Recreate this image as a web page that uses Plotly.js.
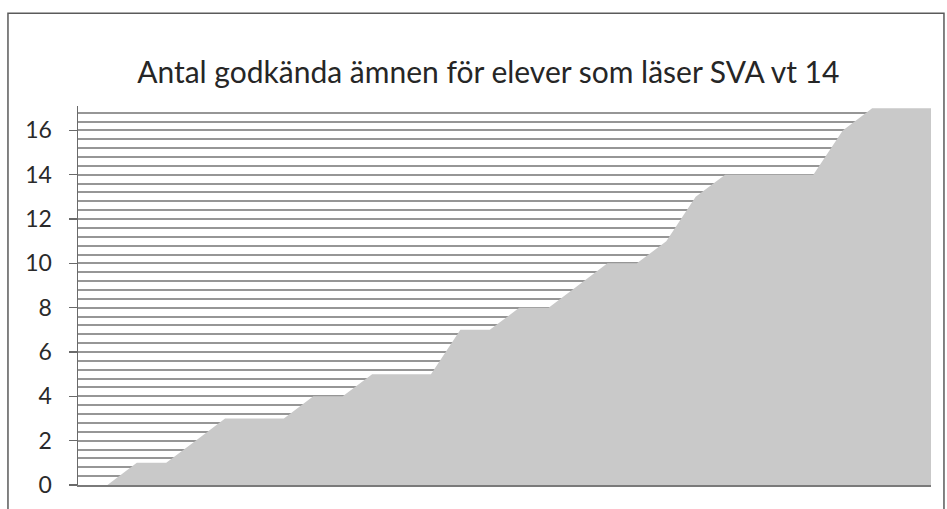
<!DOCTYPE html>
<html>
<head>
<meta charset="utf-8">
<script src="https://cdn.plot.ly/plotly-3.0.1.min.js"></script>
<style>
  html, body { margin: 0; padding: 0; background: #ffffff; }
  #chart { width: 947px; height: 509px; }
</style>
</head>
<body>
<div id="chart"></div>
<script>
// Students (sorted) and number of approved subjects
const students = [1, 2, 3, 4, 5, 6, 7, 8, 9, 10, 11, 12, 13, 14, 15,
                  16, 17, 18, 19, 20, 21, 22, 23, 24, 25, 26, 27, 28, 29, 30];
const approvedSubjects = [0, 0, 1, 1, 2, 3, 3, 3, 4, 4, 5, 5, 5, 7, 7,
                          8, 8, 9, 10, 10, 11, 13, 14, 14, 14, 14, 16, 17, 17, 17];
const yTickValues = [0, 2, 4, 6, 8, 10, 12, 14, 16];
const yTickLabels = ["0", "2", "4", "6", "8", "10", "12", "14", "16"];
const chartTitle = "Antal godkända ämnen för elever som läser SVA vt 14";

const trace = {
  x: students,
  y: approvedSubjects,
  type: "scatter",
  mode: "lines",
  fill: "tozeroy",
  fillcolor: "#c9c9c9",
  line: { width: 0, color: "#c9c9c9" },
  hoverinfo: "x+y"
};

const gridColor = "#969696";

const layout = {
  width: 947,
  height: 509,
  margin: { l: 78, r: 16, t: 106, b: 24 },
  paper_bgcolor: "#ffffff",
  plot_bgcolor: "#ffffff",
  showlegend: false,
  font: { family: "Lato, 'Open Sans', sans-serif", color: "#2a2a2a" },
  title: {
    text: chartTitle,
    font: { family: "Lato, 'Open Sans', sans-serif", size: 30, color: "#262626" },
    x: 0.481,
    xanchor: "center",
    xref: "paper",
    y: 0.858,
    yanchor: "middle",
    yref: "container"
  },
  xaxis: {
    range: [1, 30],
    showticklabels: false,
    ticks: "",
    showgrid: false,
    zeroline: false,
    showline: true,
    linecolor: "#7a7a7a",
    linewidth: 1.5,
    fixedrange: true
  },
  yaxis: {
    range: [0, 17.1],
    tickvals: yTickValues,
    ticktext: yTickLabels,
    ticks: "outside",
    ticklen: 8,
    tickwidth: 1.5,
    tickcolor: "#6a6a6a",
    ticklabelstandoff: 12,
    tickfont: { family: "Lato, 'Open Sans', sans-serif", size: 23, color: "#2a2a2a" },
    showline: true,
    linecolor: "#6a6a6a",
    linewidth: 1.5,
    showgrid: true,
    gridcolor: gridColor,
    gridwidth: 2,
    zeroline: false,
    minor: {
      dtick: 0.4,
      tick0: 0,
      showgrid: true,
      gridcolor: gridColor,
      gridwidth: 2,
      ticks: ""
    },
    fixedrange: true
  },
  shapes: [
    {
      type: "rect",
      xref: "paper", yref: "paper",
      x0: -0.0821, x1: 1.0152,
      y0: -0.12, y1: 1.245,
      line: { color: "#5a5a5a", width: 1.5 },
      fillcolor: "rgba(0,0,0,0)",
      layer: "below"
    }
  ]
};

Plotly.newPlot("chart", [trace], layout, { displayModeBar: false, staticPlot: true });
</script>
</body>
</html>
